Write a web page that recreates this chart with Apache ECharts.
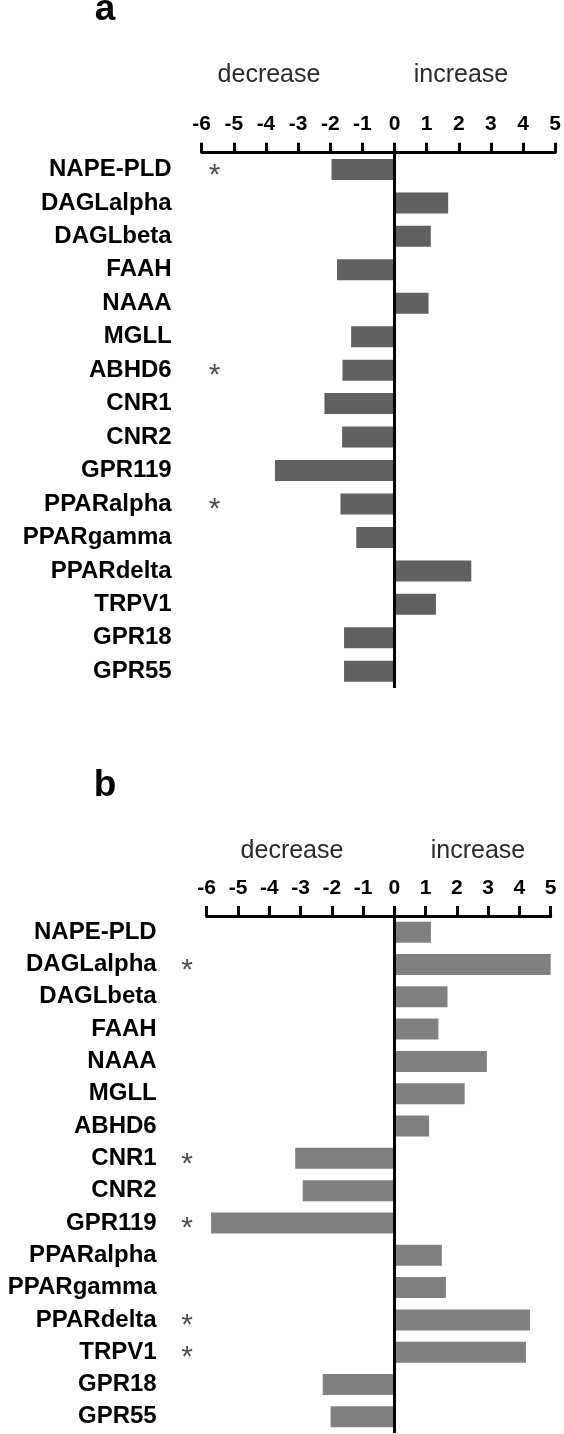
<!DOCTYPE html>
<html>
<head>
<meta charset="utf-8">
<script src="https://cdn.jsdelivr.net/npm/echarts@6/dist/echarts.min.js"></script>
<style>
  html, body { margin: 0; padding: 0; background: #fff; }
  #main { width: 564px; height: 1434px; }
</style>
</head>
<body>
<div id="main"></div>
<script>
// genes, top to bottom
var genes = ['NAPE-PLD', 'DAGLalpha', 'DAGLbeta', 'FAAH', 'NAAA', 'MGLL', 'ABHD6', 'CNR1',
  'CNR2', 'GPR119', 'PPARalpha', 'PPARgamma', 'PPARdelta', 'TRPV1', 'GPR18', 'GPR55'];

// fold change, panel a
var valuesA = [-1.96, 1.67, 1.13, -1.79, 1.06, -1.35, -1.62, -2.18,
  -1.63, -3.72, -1.68, -1.19, 2.39, 1.29, -1.57, -1.57];
// fold change, panel b
var valuesB = [1.17, 5.0, 1.70, 1.41, 2.96, 2.25, 1.11, -3.17,
  -2.93, -5.86, 1.52, 1.65, 4.34, 4.21, -2.29, -2.04];

// significant genes (*)
var sigA = ['NAPE-PLD', 'ABHD6', 'PPARalpha'];
var sigB = ['DAGLalpha', 'CNR1', 'GPR119', 'PPARdelta', 'TRPV1'];

var ticks = [-6, -5, -4, -3, -2, -1, 0, 1, 2, 3, 4, 5];

// column where the stars sit (axis units)
var starColA = -5.6;
var starColB = -6.63;

var myChart = echarts.init(document.getElementById('main'));

function xAx(idx, margin) {
  return {
    type: 'value', gridIndex: idx, position: 'top',
    min: ticks[0], max: ticks[ticks.length - 1], interval: 1,
    axisLine: { show: true, lineStyle: { color: '#000', width: 3 } },
    axisTick: { show: true, length: 10, lineStyle: { color: '#000', width: 3 } },
    axisLabel: { margin: margin, color: '#000', fontSize: 21, fontWeight: 'bold', fontFamily: 'Liberation Sans' },
    splitLine: { show: false }
  };
}

function yAx(idx, margin) {
  return {
    type: 'category', gridIndex: idx, data: genes, inverse: true,
    axisLine: { show: false }, axisTick: { show: false },
    axisLabel: { margin: margin, color: '#000', fontSize: 24, fontWeight: 'bold', fontFamily: 'Liberation Sans' }
  };
}

function bars(idx, vals, color) {
  return {
    type: 'bar', xAxisIndex: idx, yAxisIndex: idx, data: vals, barWidth: 21,
    itemStyle: { color: color },
    markLine: {
      silent: true, symbol: ['none', 'none'], label: { show: false },
      lineStyle: { color: '#000', width: 3, type: 'solid' },
      data: [{ xAxis: 0 }]
    }
  };
}

function stars(idx, list, col) {
  return {
    type: 'scatter', xAxisIndex: idx, yAxisIndex: idx, clip: false,
    symbolSize: 1, itemStyle: { color: 'rgba(0,0,0,0)' },
    data: list.map(function (g) { return [col, g]; }),
    label: {
      show: true, position: 'inside', formatter: '*', offset: [0, 6],
      color: '#222', fontSize: 30, fontFamily: 'Liberation Sans'
    }
  };
}

function txt(x, y, s, size, weight, color) {
  return {
    type: 'text', x: x, y: y, silent: true,
    style: { text: s, fontSize: size, fontWeight: weight, fontFamily: 'Liberation Sans',
      fill: color, align: 'center', verticalAlign: 'middle' }
  };
}

option = {
  animation: false,
  grid: [
    { left: 201.7, top: 152.7, width: 355, height: 535.3 },
    { left: 206.7, top: 916, width: 344, height: 517 }
  ],
  xAxis: [xAx(0, 18), xAx(1, 17)],
  yAxis: [yAx(0, 30), yAx(1, 50)],
  series: [
    bars(0, valuesA, '#606060'),
    bars(1, valuesB, '#808080'),
    stars(0, sigA, starColA),
    stars(1, sigB, starColB)
  ],
  graphic: [
    txt(105, 10, 'a', 37, 'bold', '#000'),
    txt(269, 75, 'decrease', 25, 'normal', '#2a2a2a'),
    txt(461, 75, 'increase', 25, 'normal', '#2a2a2a'),
    txt(105, 786, 'b', 37, 'bold', '#000'),
    txt(292, 851, 'decrease', 25, 'normal', '#2a2a2a'),
    txt(478, 851, 'increase', 25, 'normal', '#2a2a2a')
  ]
};

myChart.setOption(option);
</script>
</body>
</html>
